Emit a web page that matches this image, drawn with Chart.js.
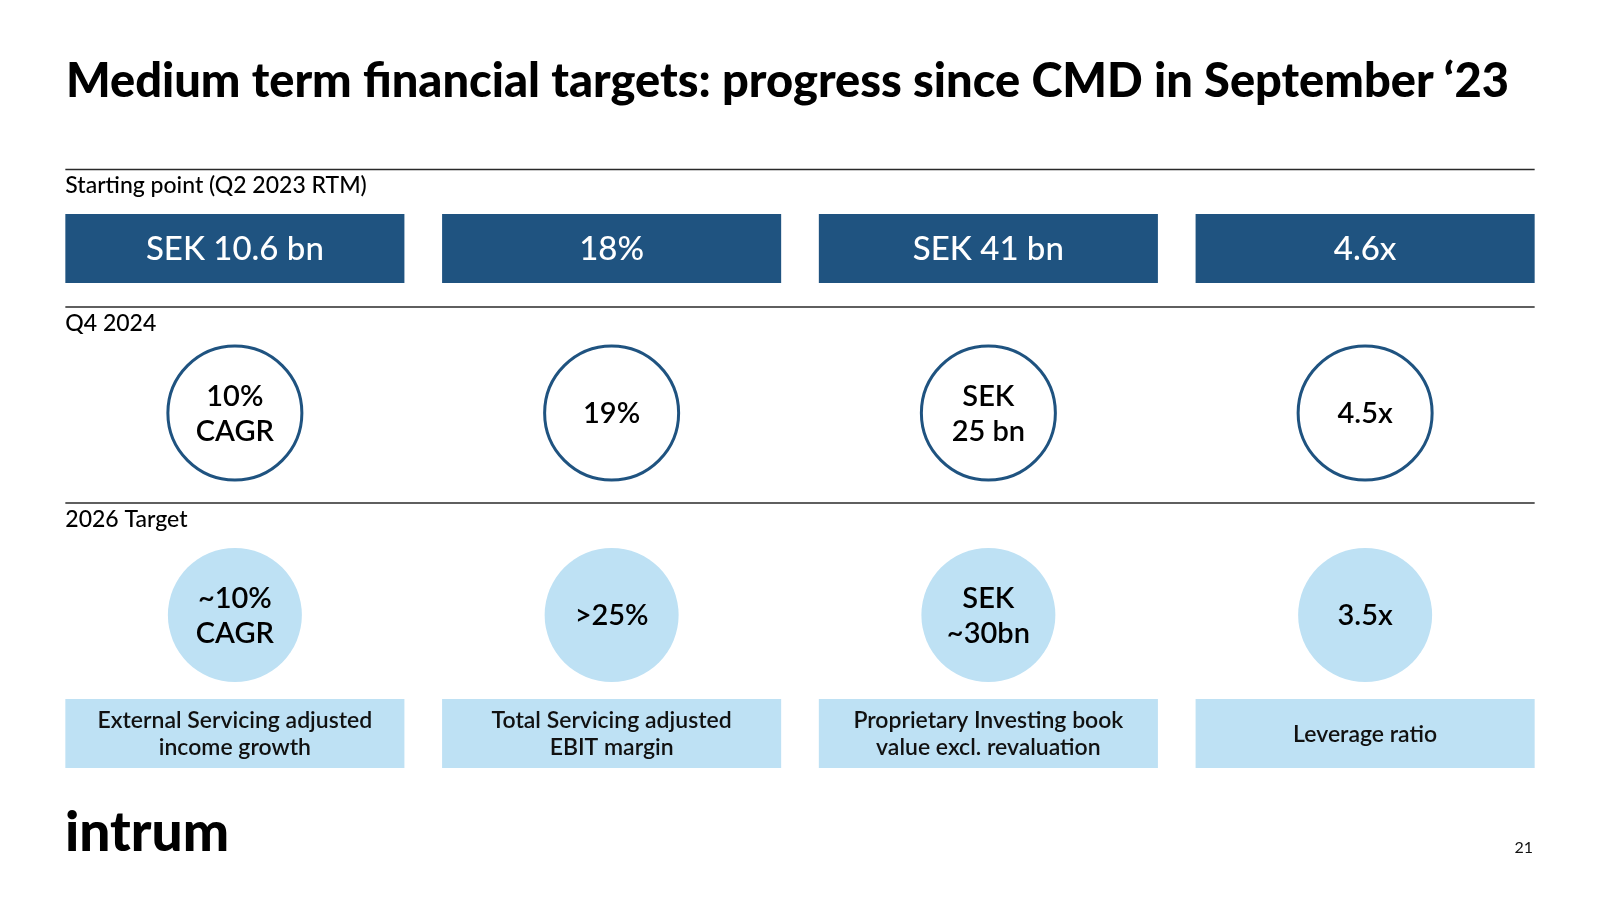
<!DOCTYPE html>
<html>
<head>
<meta charset="utf-8">
<script src="https://cdn.jsdelivr.net/npm/chart.js@4/dist/chart.umd.min.js"></script>
<style>
  html, body { margin: 0; padding: 0; background: #fff; }
  #slide { position: relative; width: 1600px; height: 900px; overflow: hidden; font-family: Lato, sans-serif; }
  #slide canvas { position: absolute; left: 0; top: 0; }
  .title { position: absolute; left: 66px; top: 51px; font-size: 47px; font-weight: 900; line-height: 1.2; color: #000; white-space: nowrap; letter-spacing: 0; }
  .logo { position: absolute; left: 65px; top: 797px; font-size: 55px; font-weight: 900; line-height: 1.2; color: #000; letter-spacing: 0; }
  .page { position: absolute; right: 67px; top: 837px; font-size: 16px; line-height: 1.2; color: #111; }
</style>
</head>
<body>
<div id="slide">
  <canvas id="chart" width="1600" height="900"></canvas>
  <div class="title">Medium term financial targets: progress since CMD in September ‘23</div>
  <div class="logo">intrum</div>
  <div class="page">21</div>
</div>
<script>
// Metrics (one column each)
const metrics = [
  'External Servicing adjusted\nincome growth',
  'Total Servicing adjusted\nEBIT margin',
  'Proprietary Investing book\nvalue excl. revaluation',
  'Leverage ratio'
];
const rowLabels = ['Starting point (Q2 2023 RTM)', 'Q4 2024', '2026 Target'];
const startingPoint = ['SEK 10.6 bn', '18%', 'SEK 41 bn', '4.6x'];
const q4_2024 = ['10%\nCAGR', '19%', 'SEK\n25 bn', '4.5x'];
const target2026 = ['~10%\nCAGR', '>25%', 'SEK\n~30bn', '3.5x'];

const DARK = '#1F5380';
const LIGHT = '#BEE1F4';

// vertical layout of the slide, in y-scale units (0..900)
const rows = {
  rules: [169.5, 307, 503],
  startBox: [214, 283],
  q4Center: 413,
  targetCenter: 615,
  descBox: [699, 768]
};

function drawLines(ctx, text, cx, cy, s) {
  const lines = text.split('\n');
  ctx.font = `${s.weight} ${s.size}px Lato`;
  ctx.fillStyle = s.color;
  ctx.textAlign = 'center';
  ctx.textBaseline = 'alphabetic';
  const cap = s.size * 0.7165;
  lines.forEach((t, i) => {
    ctx.fillText(t, cx, cy + cap / 2 + (i - (lines.length - 1) / 2) * s.lh);
  });
}

const slidePlugin = {
  id: 'slide',
  afterDatasetsDraw(chart) {
    const ctx = chart.ctx;
    const y = chart.scales.y;
    const bars = chart.getDatasetMeta(0).data;
    const left = bars[0].x - bars[0].width / 2;
    const right = bars[bars.length - 1].x + bars[bars.length - 1].width / 2;

    ctx.save();
    // section rules + row labels
    rows.rules.forEach((v, i) => {
      const py = y.getPixelForValue(v);
      ctx.strokeStyle = '#2a2a2a';
      ctx.lineWidth = 1.5;
      ctx.beginPath();
      ctx.moveTo(left, py);
      ctx.lineTo(right, py);
      ctx.stroke();

      ctx.font = '500 23px Lato';
      ctx.fillStyle = '#000';
      ctx.textAlign = 'left';
      ctx.textBaseline = 'alphabetic';
      ctx.fillText(rowLabels[i], left, py + 23.5);
    });

    // value texts on every mark
    chart.data.datasets.forEach((ds, di) => {
      if (!ds.texts) return;
      chart.getDatasetMeta(di).data.forEach((el, j) => {
        const cy = ds.type === 'bar' ? (el.y + el.base) / 2 : el.y;
        drawLines(ctx, ds.texts[j], el.x, cy, ds.textStyle);
      });
    });
    ctx.restore();
  }
};

new Chart(document.getElementById('chart'), {
  type: 'bar',
  data: {
    labels: metrics.map(m => m.replace('\n', ' ')),
    datasets: [
      {
        type: 'bar',
        label: 'Starting point',
        data: startingPoint.map(() => rows.startBox),
        backgroundColor: DARK,
        grouped: false,
        categoryPercentage: 1,
        barPercentage: 0.9,
        texts: startingPoint,
        textStyle: { size: 33, weight: 500, color: '#fff', lh: 40 }
      },
      {
        type: 'bar',
        label: 'Metric',
        data: metrics.map(() => rows.descBox),
        backgroundColor: LIGHT,
        grouped: false,
        categoryPercentage: 1,
        barPercentage: 0.9,
        texts: metrics,
        textStyle: { size: 23, weight: 600, color: '#111', lh: 27.5 }
      },
      {
        type: 'line',
        label: 'Q4 2024',
        showLine: false,
        data: q4_2024.map(() => rows.q4Center),
        pointRadius: 67,
        pointBorderWidth: 3,
        pointBorderColor: DARK,
        pointBackgroundColor: '#fff',
        texts: q4_2024,
        textStyle: { size: 29, weight: 600, color: '#000', lh: 35 }
      },
      {
        type: 'line',
        label: '2026 Target',
        showLine: false,
        data: target2026.map(() => rows.targetCenter),
        pointRadius: 67,
        pointBorderWidth: 0,
        pointBackgroundColor: LIGHT,
        texts: target2026,
        textStyle: { size: 29, weight: 600, color: '#000', lh: 35 }
      }
    ]
  },
  options: {
    responsive: false,
    animation: false,
    devicePixelRatio: 1,
    events: [],
    layout: { autoPadding: false, padding: { left: 46.5, right: 46.5, top: 0, bottom: 0 } },
    plugins: {
      legend: { display: false },
      tooltip: { enabled: false }
    },
    scales: {
      x: { display: false, offset: true },
      y: { display: false, min: 0, max: 900, reverse: true }
    }
  },
  plugins: [slidePlugin]
});
</script>
</body>
</html>
